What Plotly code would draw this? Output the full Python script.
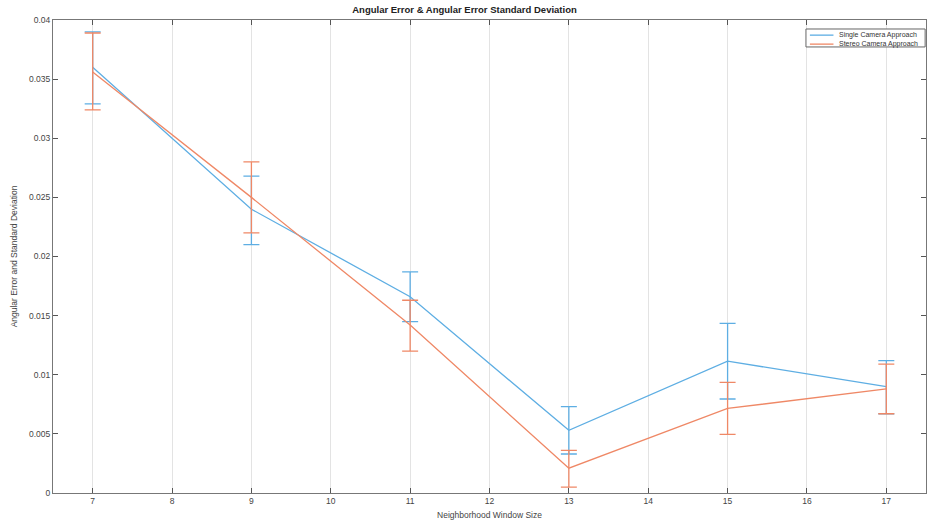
import plotly.graph_objects as go

window_sizes = [7, 9, 11, 13, 15, 17]

single_mean = [0.0360, 0.0240, 0.0166, 0.0053, 0.01115, 0.0090]
single_plus = [0.0030, 0.0028, 0.0021, 0.0020, 0.0032, 0.0022]
single_minus = [0.0031, 0.0030, 0.0021, 0.0020, 0.0032, 0.0023]

stereo_mean = [0.0356, 0.0250, 0.0142, 0.0021, 0.00715, 0.0088]
stereo_plus = [0.0033, 0.0030, 0.0021, 0.0015, 0.0022, 0.0021]
stereo_minus = [0.0032, 0.0030, 0.0022, 0.0016, 0.0022, 0.0021]

series_names = ["Single Camera Approach", "Stereo Camera Approach"]

y_ticks = [0, 0.005, 0.01, 0.015, 0.02, 0.025, 0.03, 0.035, 0.04]
y_tick_labels = ["0", "0.005", "0.01", "0.015", "0.02", "0.025", "0.03", "0.035", "0.04"]
x_ticks = list(range(7, 18))

blue = "#5EAEE3"
orange = "#EF8866"
colors = [blue, orange]

fig = go.Figure()
fig.add_trace(go.Scatter(
    x=window_sizes, y=single_mean, mode="lines", name=series_names[0],
    line=dict(color=blue, width=1.3),
    error_y=dict(type="data", symmetric=False, array=single_plus, arrayminus=single_minus,
                 color=blue, thickness=1.3, width=8),
))
fig.add_trace(go.Scatter(
    x=window_sizes, y=stereo_mean, mode="lines", name=series_names[1],
    line=dict(color=orange, width=1.3),
    error_y=dict(type="data", symmetric=False, array=stereo_plus, arrayminus=stereo_minus,
                 color=orange, thickness=1.3, width=8),
))

axis_font = dict(family="Liberation Sans, Arial, sans-serif", size=8.5, color="#444444")

# compact MATLAB-style legend box (paper coordinates)
shapes = [dict(type="rect", xref="paper", yref="paper", x0=0.8625, x1=0.999, y0=0.943, y1=0.981,
               line=dict(color="#666666", width=1), fillcolor="white", layer="above")]
annotations = []
row_y = [0.968, 0.949]
for name, col, ry in zip(series_names, colors, row_y):
    shapes.append(dict(type="line", xref="paper", yref="paper", x0=0.867, x1=0.894, y0=ry, y1=ry,
                       line=dict(color=col, width=1.3), layer="above"))
    annotations.append(dict(xref="paper", yref="paper", x=0.898, y=ry, text=name, showarrow=False,
                            xanchor="left", yanchor="middle",
                            font=dict(size=7, color="#333333")))

fig.update_layout(
    width=929, height=525,
    margin=dict(l=53, r=3, t=20, b=32),
    paper_bgcolor="white", plot_bgcolor="white",
    font=axis_font,
    title=dict(text="<b>Angular Error & Angular Error Standard Deviation</b>",
               x=0.5, xanchor="center", y=0.988, yanchor="top",
               font=dict(family="Liberation Sans, Arial, sans-serif", size=9.5, color="#222222")),
    showlegend=False,
    shapes=shapes,
    annotations=annotations,
)
fig.update_xaxes(
    range=[6.5, 17.5], tickmode="array", tickvals=x_ticks,
    ticks="inside", ticklen=5, tickcolor="#555555",
    showline=True, linecolor="#777777", linewidth=1, mirror="ticks",
    showgrid=True, gridcolor="#E3E3E3", gridwidth=1, zeroline=False,
    title=dict(text="Neighborhood Window Size", standoff=6, font=dict(size=8.5)),
)
fig.update_yaxes(
    range=[0, 0.04], tickmode="array", tickvals=y_ticks, ticktext=y_tick_labels,
    ticks="inside", ticklen=5, tickcolor="#555555",
    showline=True, linecolor="#777777", linewidth=1, mirror="ticks",
    showgrid=False, zeroline=False,
    title=dict(text="Angular Error and Standard Deviation", standoff=10, font=dict(size=8.5)),
)

fig.write_html("out.html", config={"displayModeBar": False},
               post_script="document.body.style.margin='0';document.body.style.overflow='hidden';")
